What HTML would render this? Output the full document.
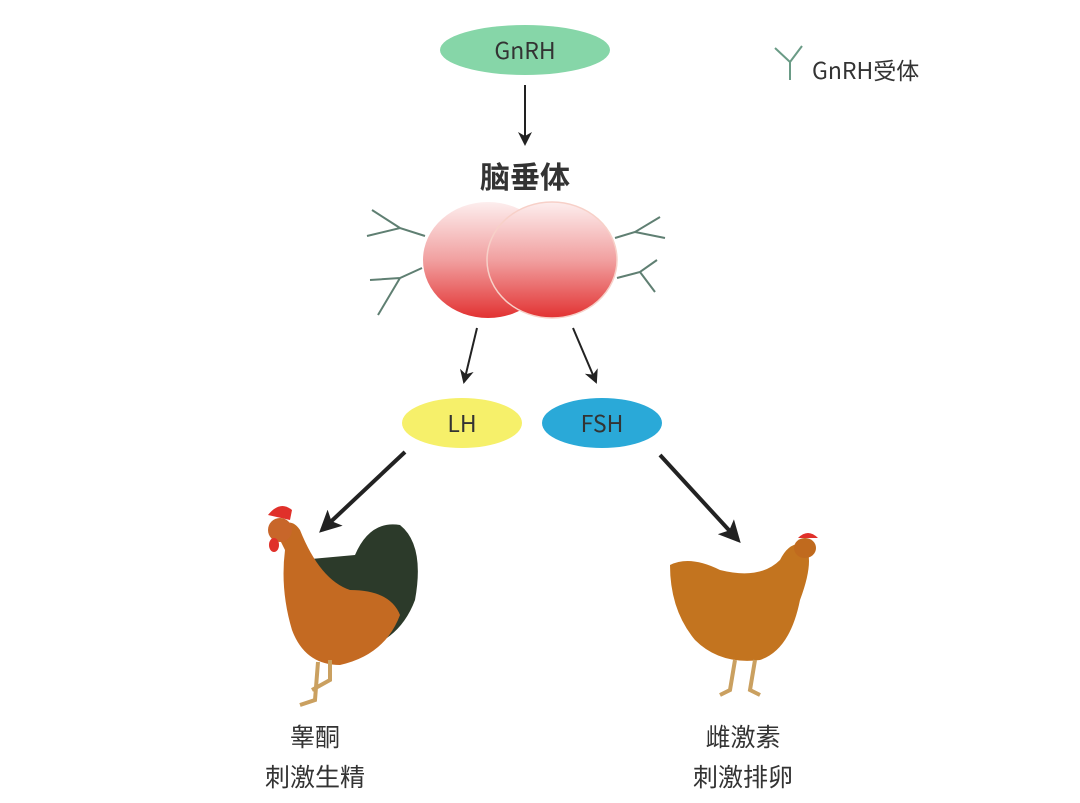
<!DOCTYPE html>
<html><head><meta charset="utf-8"><style>
body{margin:0;background:#fff;width:1080px;height:803px;overflow:hidden}
svg{display:block}
text{font-family:"Noto Sans CJK SC","Liberation Sans",sans-serif;fill:#333}
</style></head><body>
<svg width="1080" height="803" viewBox="0 0 1080 803" xmlns="http://www.w3.org/2000/svg">
<defs>
<linearGradient id="rg" x1="0" y1="0" x2="0" y2="1">
<stop offset="0" stop-color="#fdeeee"/><stop offset="0.5" stop-color="#f1a0a0"/><stop offset="1" stop-color="#e23232"/></linearGradient>
<marker id="a" markerWidth="14" markerHeight="14" refX="12" refY="7" orient="auto" markerUnits="userSpaceOnUse"><path d="M0,0 L14,7 L0,14 L4,7z" fill="#222"/></marker>
<marker id="b" markerWidth="22" markerHeight="22" refX="18" refY="11" orient="auto" markerUnits="userSpaceOnUse"><path d="M0,0 L22,11 L0,22 L5,11z" fill="#222"/></marker>
</defs>
<ellipse cx="525" cy="50" rx="85" ry="25" fill="#86d6a8"/>
<text x="525" y="59" font-size="23" text-anchor="middle">GnRH</text>
<path d="M775,48 L790,62 L802,46 M790,62 L790,80" stroke="#6a9b86" stroke-width="2" fill="none"/>
<text x="812" y="79" font-size="23">GnRH受体</text>
<line x1="525" y1="85" x2="525" y2="144" stroke="#222" stroke-width="2" marker-end="url(#a)"/>
<text x="525" y="188" font-size="30" font-weight="bold" text-anchor="middle" fill="#222">脑垂体</text>
<g stroke="#5f7f72" stroke-width="2" fill="none">
<path d="M367,236 L400,228 L425,236 M400,228 L372,210"/>
<path d="M370,280 L400,278 L422,268 M400,278 L378,315"/>
<path d="M615,238 L635,232 L660,217 M635,232 L665,238"/>
<path d="M617,278 L640,272 L657,260 M640,272 L655,292"/>
</g>
<ellipse cx="488" cy="260" rx="65" ry="58" fill="url(#rg)"/>
<ellipse cx="552" cy="260" rx="65" ry="58" fill="url(#rg)" stroke="#f7d0c8" stroke-width="1.5"/>
<line x1="477" y1="328" x2="464" y2="382" stroke="#222" stroke-width="2" marker-end="url(#a)"/>
<line x1="573" y1="328" x2="596" y2="382" stroke="#222" stroke-width="2" marker-end="url(#a)"/>
<ellipse cx="462" cy="423" rx="60" ry="25" fill="#f6f06a"/>
<text x="462" y="432" font-size="23" text-anchor="middle">LH</text>
<ellipse cx="602" cy="423" rx="60" ry="25" fill="#2aa9d8"/>
<text x="602" y="432" font-size="23" text-anchor="middle">FSH</text>
<line x1="405" y1="452" x2="322" y2="530" stroke="#222" stroke-width="4" marker-end="url(#b)"/>
<line x1="660" y1="455" x2="738" y2="540" stroke="#222" stroke-width="4" marker-end="url(#b)"/>
<g>
<path d="M355,555 Q370,520 400,525 Q425,545 415,600 Q400,640 360,650 Q330,660 310,640 Q295,600 300,560z" fill="#2c3a2a"/>
<path d="M275,530 Q290,515 300,530 Q320,580 350,590 Q390,590 400,615 Q385,655 340,665 Q305,665 292,630 Q280,590 285,550z" fill="#c46a22"/>
<path d="M268,515 Q280,500 292,510 L290,520z" fill="#e0302a"/>
<ellipse cx="280" cy="530" rx="12" ry="12" fill="#c8662a"/>
<ellipse cx="274" cy="545" rx="5" ry="7" fill="#e0302a"/>
<path d="M318,662 L315,700 L300,705 M330,660 L330,680 L312,690" stroke="#caa060" stroke-width="4" fill="none"/>
</g>
<g>
<path d="M670,565 Q690,555 720,570 Q760,580 780,560 Q790,540 805,545 Q815,560 800,600 Q790,650 760,660 Q720,665 695,640 Q670,610 670,565z" fill="#c3741f"/>
<ellipse cx="805" cy="548" rx="11" ry="10" fill="#c06a1e"/>
<path d="M798,538 Q808,528 818,538z" fill="#e0302a"/>
<path d="M735,660 L730,690 L720,695 M755,660 L750,690 L760,695" stroke="#caa060" stroke-width="4" fill="none"/>
</g>
<g font-size="25" text-anchor="middle">
<text x="315" y="746">睾酮</text>
<text x="315" y="786">刺激生精</text>
<text x="743" y="746">雌激素</text>
<text x="743" y="786">刺激排卵</text>
</g>
</svg>
</body></html>
